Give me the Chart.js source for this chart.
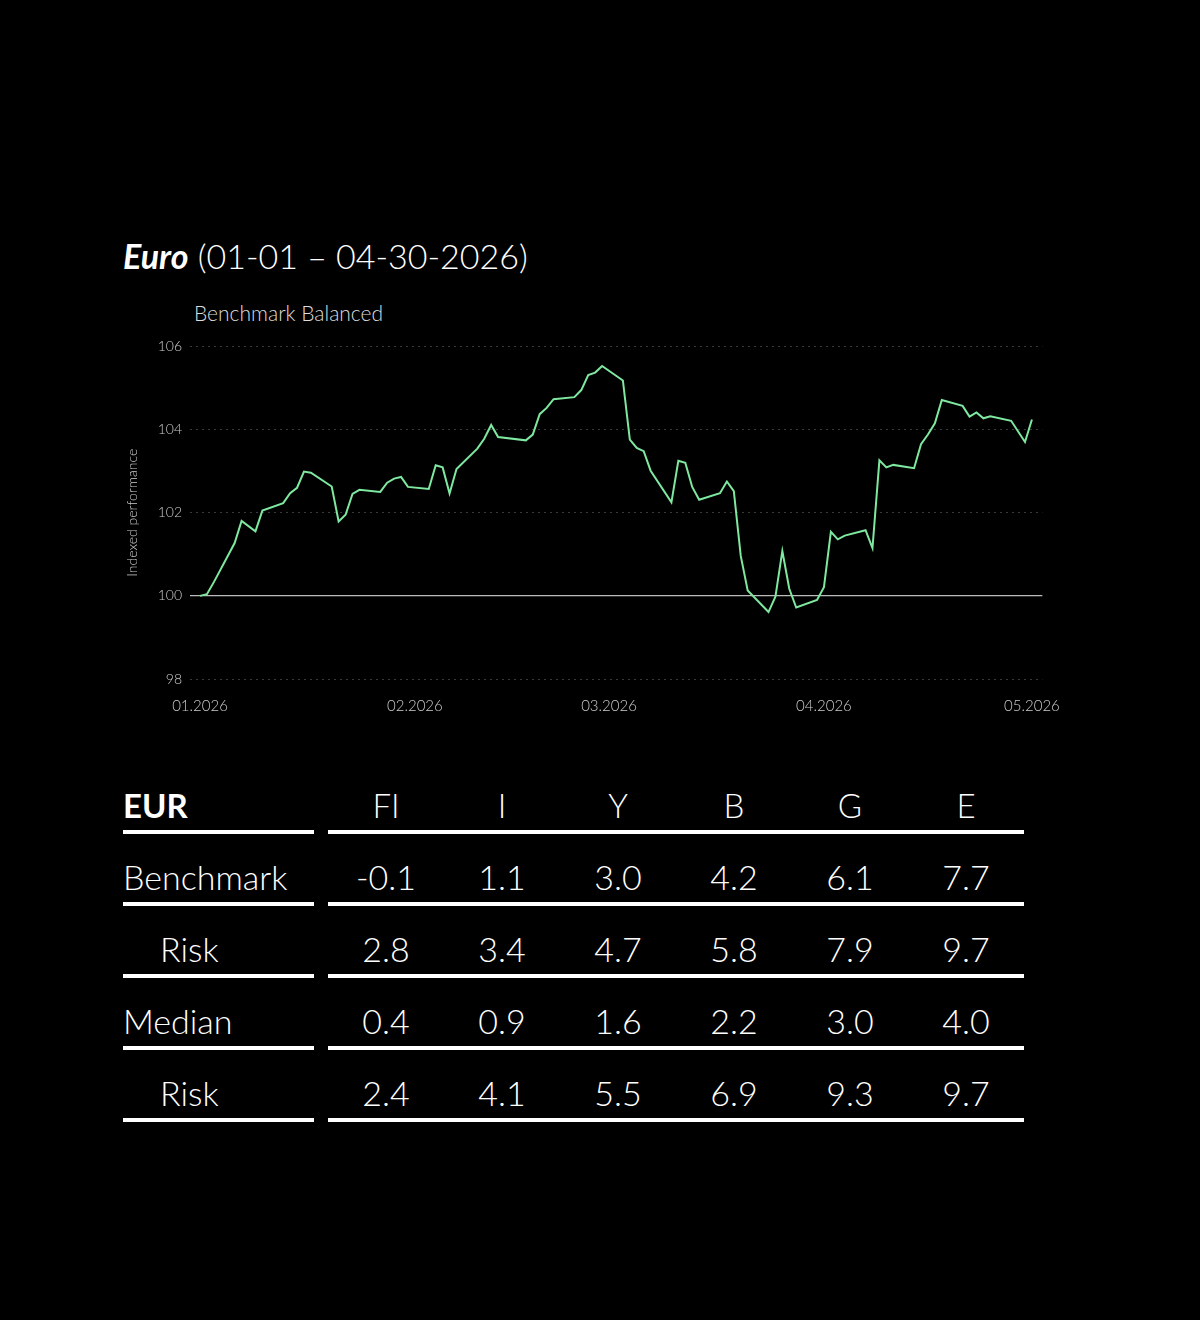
<!DOCTYPE html>
<html><head><meta charset="utf-8">
<script src="https://cdn.jsdelivr.net/npm/chart.js@4/dist/chart.umd.min.js"></script>
<style>
html,body{margin:0;background:#000;width:1200px;height:1320px;overflow:hidden;font-family:Lato,sans-serif;color:#fff}
#title{position:absolute;left:123px;top:235px;font-size:34px;font-weight:300;white-space:nowrap}
#title b{font-weight:700;font-style:italic}
#sub{position:absolute;left:194px;top:300px;font-size:21px;font-weight:300;color:#ddd}
#wrap{position:absolute;left:120px;top:330px;width:950px;height:389px}
table{position:absolute;left:123px;top:782px;border-collapse:separate;border-spacing:0}
td{font-size:34px;font-weight:300;height:60px;text-align:center;width:116px;padding:0 0 8px 0;border-bottom:4px solid #fff;vertical-align:bottom;line-height:34px}
td.l{text-align:left;width:191px}
td.gap{width:14px;border-bottom:none}
tr.h td{font-size:33px;height:40px;padding-bottom:8px}
td.in{padding-left:37px;width:154px}
</style></head><body>
<div id="title"><b>Euro</b> (01-01 – 04-30-2026)</div>
<div id="sub">Benchmark Balanced</div>
<div id="wrap"><canvas id="c"></canvas></div>
<table id="t"></table>
<script>
const days=[0,1,2,5,6,8,9,12,13,14,15,16,19,20,21,22,23,26,27,28,29,30,33,34,35,36,37,40,41,42,43,47,48,49,50,51,54,55,56,57,58,61,62,63,64,65,68,69,70,71,72,75,76,77,78,79,82,83,84,85,86,89,90,91,92,93,96,97,98,99,100,103,104,105,106,107,110,111,112,113,114,117,119,120];
const values=[100.0,100.04,100.33,101.27,101.80,101.55,102.05,102.23,102.47,102.60,102.99,102.96,102.63,101.79,101.95,102.45,102.55,102.50,102.72,102.82,102.86,102.62,102.57,103.14,103.09,102.46,103.05,103.54,103.78,104.11,103.82,103.74,103.88,104.37,104.52,104.73,104.78,104.95,105.31,105.37,105.53,105.18,103.76,103.56,103.48,103.01,102.25,103.25,103.20,102.62,102.31,102.47,102.75,102.52,100.96,100.13,99.61,99.98,101.08,100.17,99.72,99.90,100.21,101.54,101.36,101.45,101.58,101.15,103.26,103.09,103.15,103.07,103.65,103.88,104.15,104.71,104.57,104.31,104.41,104.27,104.32,104.21,103.70,104.24];
const tickDays=[0,31,59,90,120];
const tickLabels=['01.2026','02.2026','03.2026','04.2026','05.2026'];
const yTicks=[98,100,102,104,106];
const tableCols=['FI','I','Y','B','G','E'];
const rowLabels=['Benchmark','Risk','Median','Risk'];
const rowValues=[['-0.1','1.1','3.0','4.2','6.1','7.7'],['2.8','3.4','4.7','5.8','7.9','9.7'],['0.4','0.9','1.6','2.2','3.0','4.0'],['2.4','4.1','5.5','6.9','9.3','9.7']];

const t=document.getElementById('t');
let h='<tr class="h"><td class="l" style="font-weight:700">EUR</td><td class="gap"></td>'+tableCols.map(c=>'<td>'+c+'</td>').join('')+'</tr>';
rowLabels.forEach((r,i)=>{h+='<tr><td class="l'+(r==='Risk'?' in':'')+'">'+r+'</td><td class="gap"></td>'+rowValues[i].map(v=>'<td>'+v+'</td>').join('')+'</tr>';});
t.innerHTML=h;

new Chart(document.getElementById('c'),{type:'line',
data:{datasets:[{data:days.map((d,i)=>({x:d,y:values[i]})),borderColor:'#7ee8a0',borderWidth:2,pointRadius:0,tension:0}]},
options:{responsive:true,maintainAspectRatio:false,animation:false,
layout:{padding:{top:2,right:18,bottom:0,left:0}},
plugins:{legend:{display:false},tooltip:{enabled:false}},
scales:{
x:{type:'linear',min:-1.44,max:121.5,
afterBuildTicks:s=>{s.ticks=tickDays.map(v=>({value:v}));},
afterFit:s=>{s.height=40;},
ticks:{color:'#ccc',font:{family:'Lato',size:15,weight:300},padding:10,autoSkip:false,maxRotation:0,callback:v=>tickLabels[tickDays.indexOf(v)]},
grid:{display:false},border:{display:false}},
y:{min:98,max:106,
afterBuildTicks:s=>{s.ticks=yTicks.map(v=>({value:v}));},
afterFit:s=>{s.width=70;},
ticks:{color:'#ccc',font:{family:'Lato',size:14,weight:300},padding:8},
title:{display:true,text:'Indexed performance',color:'#ccc',font:{family:'Lato',size:14,weight:300}},
grid:{drawTicks:false,color:c=>c.tick&&c.tick.value===100?'#bbb':'#3a3a3a',lineWidth:c=>c.tick&&c.tick.value===100?1.2:1},
border:{display:false,dash:c=>c.tick&&c.tick.value===100?[]:[2,4]}}
}}});
</script></body></html>
